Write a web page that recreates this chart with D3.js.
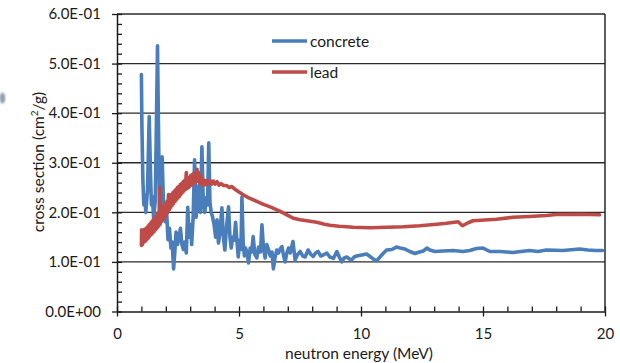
<!DOCTYPE html>
<html>
<head>
<meta charset="utf-8">
<script src="https://cdn.jsdelivr.net/npm/d3@7"></script>
<style>
  html, body { margin: 0; padding: 0; background: #fff; }
  svg { display: block; }
  text { font-family: Lato, "Open Sans", "DejaVu Sans", sans-serif; fill: #1a1a1a; }
</style>
</head>
<body>
<svg id="chart" width="620" height="363"></svg>
<script>
// Neutron total cross section per unit mass, [energy MeV, sigma cm^2/g]
const concretePoints = [
  [1.00,0.478],[1.02,0.377],[1.06,0.266],[1.10,0.215],[1.14,0.235],[1.18,0.200],
  [1.25,0.245],[1.32,0.393],[1.37,0.286],[1.41,0.215],[1.45,0.232],[1.50,0.188],
  [1.57,0.225],[1.66,0.536],[1.71,0.330],[1.76,0.175],[1.85,0.312],[1.90,0.225],
  [1.98,0.181],[2.04,0.195],[2.09,0.145],[2.15,0.168],[2.21,0.128],[2.26,0.140],
  [2.32,0.086],[2.37,0.120],[2.42,0.160],[2.48,0.135],[2.54,0.150],[2.60,0.168],
  [2.66,0.135],[2.72,0.125],[2.78,0.140],[2.84,0.118],[2.90,0.210],[2.96,0.150],
  [3.01,0.175],[3.06,0.135],[3.12,0.190],[3.18,0.306],[3.24,0.190],[3.30,0.220],
  [3.36,0.255],[3.42,0.200],[3.48,0.332],[3.54,0.215],[3.60,0.200],[3.66,0.230],
  [3.71,0.215],[3.76,0.340],[3.81,0.220],[3.86,0.200],[3.92,0.190],[3.98,0.175],
  [4.04,0.150],[4.10,0.185],[4.16,0.138],[4.22,0.160],[4.30,0.209],[4.36,0.150],
  [4.42,0.124],[4.48,0.165],[4.57,0.211],[4.63,0.150],[4.68,0.128],[4.74,0.150],
  [4.80,0.144],[4.86,0.180],[4.92,0.140],[4.97,0.110],[5.03,0.144],[5.08,0.125],
  [5.12,0.231],[5.17,0.140],[5.22,0.112],[5.27,0.128],[5.33,0.118],[5.39,0.098],
  [5.46,0.128],[5.52,0.120],[5.58,0.151],[5.65,0.115],[5.73,0.108],[5.80,0.130],
  [5.88,0.120],[5.94,0.175],[6.00,0.130],[6.07,0.108],[6.14,0.135],[6.21,0.125],
  [6.28,0.112],[6.35,0.120],[6.41,0.086],[6.48,0.110],[6.55,0.124],[6.62,0.118],
  [6.69,0.126],[6.76,0.131],[6.83,0.112],[6.89,0.100],[6.96,0.118],[7.03,0.128],
  [7.10,0.118],[7.21,0.141],[7.30,0.104],[7.40,0.115],[7.51,0.121],[7.61,0.112],
  [7.71,0.110],[7.83,0.124],[7.93,0.116],[8.04,0.111],[8.14,0.118],[8.24,0.121],
  [8.35,0.112],[8.45,0.114],[8.60,0.118],[8.72,0.110],[8.87,0.107],[9.01,0.121],
  [9.11,0.110],[9.21,0.100],[9.31,0.108],[9.42,0.110],[9.52,0.106],[9.62,0.104],
  [9.72,0.110],[9.82,0.112],[10.03,0.114],[10.23,0.116],[10.37,0.111],[10.50,0.106],
  [10.64,0.102],[10.85,0.114],[11.05,0.124],[11.26,0.125],[11.45,0.130],[11.60,0.128],
  [11.80,0.126],[12.00,0.121],[12.21,0.117],[12.40,0.120],[12.55,0.122],[12.70,0.128],
  [12.82,0.124],[13.03,0.121],[13.37,0.122],[13.78,0.123],[14.18,0.121],[14.46,0.123],
  [14.73,0.127],[15.00,0.128],[15.28,0.121],[15.70,0.121],[16.23,0.119],[16.55,0.121],
  [16.91,0.123],[17.25,0.121],[17.60,0.124],[18.27,0.123],[18.96,0.126],[19.30,0.124],
  [19.64,0.123],[19.91,0.123]
];

const leadPoints = [
  [1.00,0.133],[1.01,0.165],[1.04,0.135],[1.07,0.163],[1.10,0.140],[1.13,0.166],
  [1.16,0.142],[1.19,0.168],[1.22,0.145],[1.25,0.171],[1.28,0.148],[1.31,0.175],
  [1.34,0.152],[1.37,0.178],[1.40,0.155],[1.43,0.182],[1.46,0.158],[1.49,0.186],
  [1.52,0.161],[1.55,0.190],[1.58,0.165],[1.61,0.193],[1.64,0.168],[1.67,0.198],
  [1.70,0.172],[1.73,0.200],[1.75,0.250],[1.78,0.178],[1.81,0.205],[1.84,0.182],
  [1.87,0.210],[1.90,0.186],[1.93,0.214],[1.96,0.190],[1.99,0.218],[2.02,0.195],
  [2.05,0.222],[2.08,0.200],[2.11,0.236],[2.14,0.205],[2.17,0.232],[2.20,0.210],
  [2.23,0.236],[2.26,0.214],[2.29,0.240],[2.32,0.218],[2.35,0.243],[2.38,0.222],
  [2.41,0.246],[2.44,0.226],[2.47,0.250],[2.50,0.229],[2.53,0.252],[2.56,0.232],
  [2.59,0.256],[2.62,0.236],[2.65,0.258],[2.68,0.240],[2.71,0.262],[2.74,0.243],
  [2.77,0.264],[2.80,0.246],[2.84,0.280],[2.87,0.248],[2.90,0.268],[2.93,0.250],
  [2.96,0.270],[2.99,0.253],[3.02,0.274],[3.05,0.255],[3.08,0.276],[3.11,0.258],
  [3.14,0.278],[3.17,0.260],[3.21,0.279],[3.24,0.262],[3.28,0.287],[3.31,0.263],
  [3.34,0.280],[3.38,0.260],[3.42,0.274],[3.46,0.256],[3.50,0.268],[3.55,0.255],
  [3.60,0.264],[3.65,0.256],[3.70,0.264],[3.76,0.258],[3.82,0.264],[3.88,0.257],
  [3.95,0.263],[4.02,0.257],[4.10,0.262],[4.18,0.255],[4.26,0.258],[4.37,0.254],
  [4.50,0.254],[4.60,0.250],[4.71,0.252],[4.85,0.246],[5.00,0.241],[5.19,0.235],
  [5.40,0.229],[5.73,0.222],[6.00,0.216],[6.28,0.211],[6.69,0.202],[7.00,0.194],
  [7.23,0.188],[7.50,0.185],[7.78,0.183],[8.19,0.180],[8.50,0.176],[8.73,0.174],
  [9.10,0.172],[9.42,0.171],[9.67,0.170],[10.37,0.169],[11.05,0.170],[11.73,0.171],
  [12.41,0.173],[13.10,0.176],[13.50,0.178],[13.98,0.181],[14.16,0.173],[14.39,0.179],
  [14.59,0.183],[15.55,0.186],[16.23,0.190],[16.91,0.1915],[17.60,0.1935],[18.00,0.1955],
  [18.96,0.196],[19.78,0.195]
];

const seriesNames = ["concrete", "lead"];
const seriesColors = ["#4a7ebb", "#be4b48"];

const xTicks = [0, 5, 10, 15, 20];
const xMinorTicks = d3.range(0, 21, 1);
const yTicks = [0, 0.1, 0.2, 0.3, 0.4, 0.5, 0.6];
const yTickLabels = ["0.0E+00", "1.0E-01", "2.0E-01", "3.0E-01", "4.0E-01", "5.0E-01", "6.0E-01"];
const yMinorTicks = d3.range(0, 0.6001, 0.02);

const svg = d3.select("#chart");
const x = d3.scaleLinear().domain([0, 20]).range([117, 605]);
const y = d3.scaleLinear().domain([0, 0.6]).range([311.5, 14]);

// stray icon fragment at the far left edge
const defs = svg.append("defs");
defs.append("filter").attr("id", "soft")
  .append("feGaussianBlur").attr("stdDeviation", 0.9);
svg.append("ellipse").attr("cx", 2.5).attr("cy", 98).attr("rx", 2.8).attr("ry", 5.5)
  .attr("fill", "#8e9cb0").attr("filter", "url(#soft)");

// horizontal gridlines
svg.append("g").selectAll("line").data(yTicks.slice(1)).join("line")
  .attr("x1", x(0)).attr("x2", x(20))
  .attr("y1", d => y(d)).attr("y2", d => y(d))
  .attr("stroke", "#2a2a2a").attr("stroke-width", 1.3);

// right border
svg.append("line").attr("x1", x(20)).attr("x2", x(20))
  .attr("y1", y(0.6)).attr("y2", y(0))
  .attr("stroke", "#1a1a1a").attr("stroke-width", 1.4);

// left axis: major ticks outside with labels, minor ticks inside
svg.append("g").attr("transform", `translate(${x(0)},0)`)
  .call(d3.axisLeft(y).tickValues(yTicks).tickFormat((d, i) => yTickLabels[i])
    .tickSizeInner(5).tickSizeOuter(0).tickPadding(11));
svg.append("g").attr("transform", `translate(${x(0)},0)`)
  .call(d3.axisRight(y).tickValues(yMinorTicks).tickFormat("").tickSizeInner(5).tickSizeOuter(0))
  .call(g => g.select(".domain").remove());

// bottom axis: major ticks crossing, minor ticks inside
svg.append("g").attr("transform", `translate(0,${y(0)})`)
  .call(d3.axisBottom(x).tickValues(xTicks).tickSizeInner(5).tickSizeOuter(0).tickPadding(12));
svg.append("g").attr("transform", `translate(0,${y(0)})`)
  .call(d3.axisTop(x).tickValues(xMinorTicks).tickFormat("").tickSizeInner(5).tickSizeOuter(0))
  .call(g => g.select(".domain").remove());

svg.selectAll(".tick line").attr("stroke", "#1a1a1a").attr("stroke-width", 1.3);
svg.selectAll(".domain").attr("stroke", "#1a1a1a").attr("stroke-width", 1.5);
svg.selectAll(".tick text").attr("font-size", 15).attr("fill", "#1a1a1a")
  .attr("font-family", "Lato, 'Open Sans', sans-serif");

// series lines
const line = d3.line().x(d => x(d[0])).y(d => y(d[1]));
[concretePoints, leadPoints].forEach((pts, i) => {
  svg.append("path").datum(pts)
    .attr("d", line)
    .attr("fill", "none")
    .attr("stroke", seriesColors[i])
    .attr("stroke-width", 3.6)
    .attr("stroke-linejoin", "round")
    .attr("stroke-linecap", "round");
});

// legend
const legend = svg.append("g");
seriesNames.forEach((name, i) => {
  const ly = 41 + i * 31;
  legend.append("line").attr("x1", 272).attr("x2", 307).attr("y1", ly).attr("y2", ly)
    .attr("stroke", seriesColors[i]).attr("stroke-width", 3.6);
  legend.append("text").attr("x", 310).attr("y", ly + 5.5)
    .attr("font-size", 15.5).text(name);
});

// axis titles
const yt = svg.append("text")
  .attr("transform", "translate(44,162) rotate(-90)")
  .attr("text-anchor", "middle").attr("font-size", 15.5);
yt.append("tspan").text("cross section (cm");
yt.append("tspan").attr("font-size", 10).attr("dy", -6).text("2");
yt.append("tspan").attr("dy", 6).text("/g)");

svg.append("text").attr("x", 359).attr("y", 359)
  .attr("text-anchor", "middle").attr("font-size", 15.5)
  .text("neutron energy (MeV)");
</script>
</body>
</html>
